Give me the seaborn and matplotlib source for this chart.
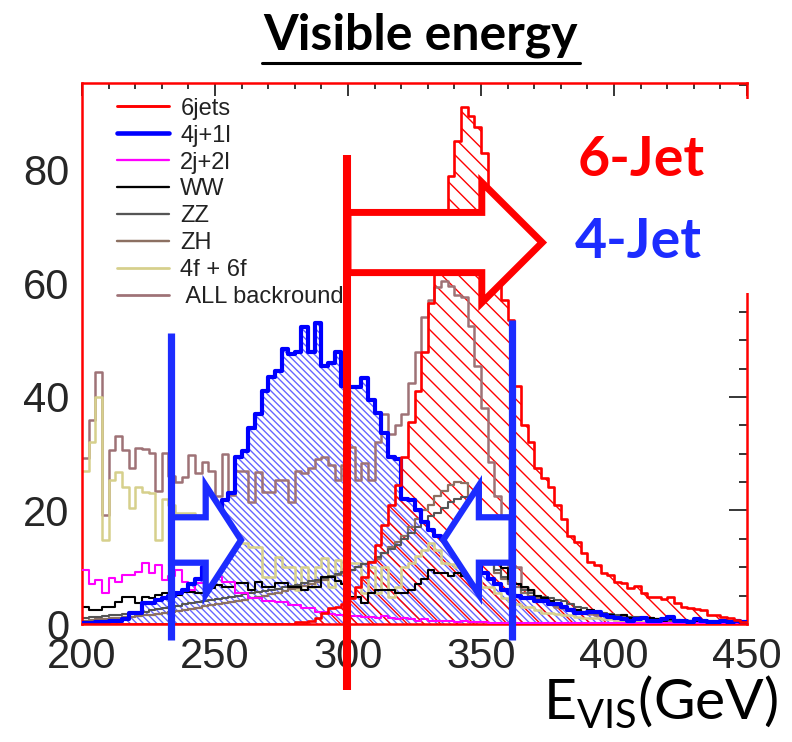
import numpy as np
import pandas as pd
import matplotlib
matplotlib.use("Agg")
import matplotlib.pyplot as plt
import seaborn as sns
from matplotlib.lines import Line2D
from matplotlib.patches import Polygon, Rectangle
from matplotlib.ticker import MultipleLocator

# ---------------- data (2.5 GeV bins from 200 to 450) ----------------
bin_edges = [200.0 + 2.5 * i for i in range(101)]
bin_centers = [200.0 + 2.5 * i + 1.25 for i in range(100)]

six_jets = [0, 0, 0, 0, 0, 0, 0, 0, 0, 0,
            0, 0, 0, 0, 0, 0, 0, 0, 0, 0,
            0, 0, 0, 0, 0, 0, 0, 0, 0, 0,
            0, 0, 0.3, 0.3, 0.5, 1, 2, 2.8, 3, 3.5,
            4.5, 6.5, 8.3, 11, 14, 17.5, 21, 24.5, 29.5, 35.5,
            41, 48, 56.5, 64, 72, 79, 85, 91, 89.5, 87.5,
            83, 74, 64, 57, 53.5, 42, 35, 32, 27.5, 25.7,
            24.1, 21, 18.5, 15.5, 14.5, 12.5, 11, 10.4, 9, 8.6,
            7.4, 7.2, 6.3, 6.7, 5.5, 4.8, 4.8, 4.4, 4.8, 3.7,
            3.0, 2.8, 2.6, 2.5, 1.6, 1.6, 1.2, 1.0, 0.7, 0.4]

four_j_one_l = [0.2, 0.2, 0.3, 0.3, 0.6, 0.6, 0.8, 2, 2, 3.7,
                3.7, 4.2, 4.5, 5, 5.5, 6, 7, 8, 10, 14,
                18, 21.8, 23, 29.5, 30.5, 34.5, 37, 41, 43.5, 44.5,
                48.5, 47.5, 48, 52.3, 48, 53, 45.5, 46, 48, 42,
                41.8, 41.8, 43.3, 39.5, 37.2, 33.6, 29.5, 29, 22, 21.8,
                20, 18, 16.5, 15.5, 15, 14, 13, 12.5, 11.5, 10.5,
                9, 8, 7, 6, 5.5, 5, 4.5, 4.5, 4, 4,
                3.5, 3.5, 3, 2.5, 2, 2, 2.2, 2.2, 1.5, 1.2,
                1, 0.8, 0.6, 0.8, 1, 0.5, 0.6, 0.8, 1.2, 0.6,
                0.5, 0.4, 0.8, 0.5, 0.3, 0.4, 0.6, 0.3, 0.5, 0.3]

two_j_two_l = [9.5, 7, 7.8, 5.5, 8.1, 7.4, 8.6, 8.6, 9.2, 10.7,
               9, 10.4, 7.8, 8.5, 9.5, 7.4, 6, 7.2, 7.2, 7.2,
               8.3, 7.4, 7.4, 5.5, 5.5, 4.6, 4.6, 4, 4, 3.8,
               3.8, 3.3, 3.3, 2.8, 2.8, 2.2, 2.2, 1.8, 1.6, 1.6,
               1.4, 1.4, 1.2, 1.2, 1.0, 1.4, 1.0, 0.8, 1.0, 0.8,
               0.6, 0.8, 0.6, 0.5, 0.6, 0.5, 0.4, 0.5, 0.4, 0.3,
               0.3, 0.2, 0.2, 0.2, 0.2, 0.2, 0.2, 0.2, 0.1, 0.1,
               0.1, 0.1, 0.1, 0.1, 0.1, 0.1, 0.1, 0.1, 0.1, 0.1,
               0.1, 0.1, 0.1, 0.1, 0.1, 0.1, 0.1, 0.1, 0.1, 0.1,
               0.1, 0.1, 0.1, 0.1, 0.1, 0.1, 0.1, 0.1, 0.1, 0.1]

ww = [3, 2.5, 2.5, 3, 3, 3.9, 4.8, 4.8, 3.7, 4.8,
      4.6, 5.1, 5.5, 5.1, 5.1, 5.6, 5.6, 5.5, 5.5, 6.3,
      6.9, 6.5, 6.5, 7.2, 7.2, 6, 7.4, 6.5, 6.5, 7.2,
      7.2, 6.5, 6.5, 6, 6.5, 6.5, 8.3, 8.3, 7.5, 7,
      4.8, 4.8, 3.7, 5.5, 6, 6, 6, 5.5, 5.5, 6,
      7, 8, 9.5, 9, 9, 8.5, 9, 8.5, 9.5, 10,
      11.8, 12.5, 11, 9.9, 8, 7, 6.5, 6, 5, 4.5,
      4, 3.5, 3, 2.5, 2.5, 2, 2.5, 2, 1.5, 1.5,
      1.2, 1.5, 1, 1, 0.8, 1, 0.8, 0.6, 0.8, 0.5,
      0.4, 0.5, 0.3, 0.4, 0.3, 0.2, 0.3, 0.2, 0.2, 0.1]

zz = [1.0, 1.2, 1.2, 1.4, 1.5, 1.6, 1.8, 2.0, 2.0, 2.2,
      2.4, 2.6, 2.8, 3.0, 3.2, 3.5, 3.7, 3.9, 4.1, 4.2,
      4.4, 4.6, 4.8, 5.0, 5.2, 5.4, 5.6, 5.8, 6.0, 6.2,
      6.5, 6.7, 6.9, 7.2, 7.5, 7.8, 8.1, 8.4, 8.8, 9.2,
      9.6, 10, 10.5, 11, 11.8, 12.5, 13.2, 14, 15, 16,
      17, 18, 19, 19.5, 20.5, 21.5, 22, 22.4, 17.8, 15,
      12.5, 11, 9.5, 8.3, 7.5, 7, 6, 5.5, 5, 4.8,
      4.5, 4.2, 4, 3.5, 3, 2.8, 2.5, 2.2, 2, 1.8,
      1.6, 1.5, 1.3, 1.2, 1.1, 1.0, 0.9, 0.8, 0.7, 0.7,
      0.6, 0.5, 0.5, 0.4, 0.4, 0.3, 0.3, 0.2, 0.2, 0.2]

zh = [0.6, 0.7, 0.8, 0.9, 1.0, 1.1, 1.2, 1.3, 1.4, 1.5,
      1.6, 1.8, 2.0, 2.1, 2.3, 2.5, 2.7, 2.9, 3.1, 3.3,
      3.5, 3.7, 3.9, 4.1, 4.3, 4.5, 4.7, 5.0, 5.2, 5.5,
      5.8, 6.1, 6.4, 6.7, 7.0, 7.4, 7.8, 8.2, 8.6, 9.0,
      9.5, 10, 10.5, 11, 11.5, 12.5, 13.5, 14.5, 15.5, 17,
      18.5, 20, 21, 22.5, 23.5, 24.5, 25, 24.8, 22, 19,
      12.5, 10.5, 9, 8, 7, 6.5, 5.5, 5, 4.5, 4,
      3.6, 3.2, 3.0, 2.7, 2.4, 2.2, 2.0, 1.8, 1.6, 1.4,
      1.3, 1.2, 1.1, 1.0, 0.9, 0.8, 0.8, 0.7, 0.6, 0.6,
      0.5, 0.5, 0.4, 0.4, 0.3, 0.3, 0.3, 0.2, 0.2, 0.2]

four_six_f = [27, 32, 40, 14.8, 25.4, 26.8, 24.1, 20.4, 24.1, 23.3,
              23, 14.8, 22, 21, 19.5, 19.5, 19.5, 18, 16, 14.8,
              14, 14, 13.6, 14.2, 14.2, 13.6, 13.6, 8.3, 8.3, 11.8,
              10, 10, 6, 10, 6.5, 10, 11.6, 6.5, 11.3, 9,
              10.7, 10.7, 5.5, 10, 5.5, 10, 4.8, 6.5, 10, 10.7,
              12, 13, 14.2, 13, 10.7, 10.5, 10, 9.5, 9.5, 7.8,
              6.5, 6.5, 5.5, 4.6, 4, 3.5, 3, 3, 2.5, 2,
              2, 1.8, 1.5, 1.5, 1.2, 1, 1, 1, 0.8, 0.8,
              0.6, 0.5, 0.5, 0.5, 0.4, 0.4, 0.4, 0.3, 0.3, 0.3,
              0.3, 0.2, 0.2, 0.2, 0.2, 0.1, 0.1, 0.1, 0.1, 0.1]

all_background = [29.2, 36, 44.4, 19.2, 30.6, 33.1, 30.6, 27.5, 31, 30.8,
                  30.1, 23.4, 30.1, 26, 25, 25.9, 29.8, 26.6, 28.5, 27,
                  22.5, 30, 22.7, 27, 27, 21.5, 26.8, 23.3, 23.3, 25.4,
                  25.4, 21.5, 27, 26.6, 27.5, 29, 29.5, 28, 25.4, 28,
                  31.2, 25.4, 28.3, 25.4, 32, 37, 33.5, 35, 37, 42.5,
                  48, 54, 57, 59.4, 60.5, 59.5, 58, 57.6, 52.5, 45.5,
                  38, 28.5, 22.5, 12, 10, 10, 6.5, 6, 4.5, 4,
                  3.5, 3, 2.8, 2.5, 2.2, 2, 1.8, 1.6, 1.5, 1.4,
                  1.2, 1.2, 1.1, 1, 1, 0.9, 0.9, 0.8, 0.8, 0.7,
                  0.7, 0.6, 0.6, 0.5, 0.5, 0.5, 0.4, 0.4, 0.3, 0.3]

series_names = ["6jets", "4j+1l", "2j+2l", "WW", "ZZ", "ZH", "4f + 6f", " ALL backround"]
series_values = [six_jets, four_j_one_l, two_j_two_l, ww, zz, zh, four_six_f, all_background]
series_colors = ["#FF0000", "#0000FF", "#FF00FF", "#000000", "#555555", "#8C7062", "#D6D08C", "#9E7276"]
series_widths = [1.9, 3.0, 1.5, 1.5, 1.5, 1.6, 1.8, 1.8]

# cut positions (GeV)
cut_6jet = 299.5
cut_4jet_low = 233.5
cut_4jet_high = 361.5

# ---------------- styling ----------------
sns.set_theme(style="white")
plt.rcParams['font.family'] = ['Liberation Sans', 'DejaVu Sans']
plt.rcParams['hatch.linewidth'] = 1.0

fig = plt.figure(figsize=(7.92, 7.42), dpi=100)
fig.patch.set_facecolor("white")
ax = fig.add_axes([82 / 792, 1 - 624 / 742, (747 - 82) / 792, (624 - 83) / 742])
ax.set_facecolor("white")


def frame(values):
    return pd.DataFrame({"E": bin_centers, "w": values})


# hatched fills for the two signal samples
sns.histplot(data=frame(four_j_one_l), x="E", weights="w", bins=bin_edges, element="bars", fill=True,
             facecolor="none", edgecolor=(0.0, 0.0, 1.0, 0.6), hatch="\\" * 5, linewidth=0,
             ax=ax, zorder=1)
sns.histplot(data=frame(six_jets), x="E", weights="w", bins=bin_edges, element="bars", fill=True,
             facecolor="none", edgecolor="#FF0000", hatch="\\" * 2, linewidth=0, ax=ax, zorder=1.2)

# outlines
draw_order = [7, 6, 5, 4, 3, 2, 1, 0]
for k in draw_order:
    sns.histplot(data=frame(series_values[k]), x="E", weights="w", bins=bin_edges, element="step",
                 fill=False, color=series_colors[k], linewidth=series_widths[k], ax=ax,
                 zorder=2 + 0.1 * (8 - k))

ax.set_xlim(200, 450)
ax.set_ylim(0, 95.3)
ax.set_xlabel("")
ax.set_ylabel("")

ax.xaxis.set_major_locator(MultipleLocator(50))
ax.xaxis.set_minor_locator(MultipleLocator(10))
ax.yaxis.set_major_locator(MultipleLocator(20))
ax.yaxis.set_minor_locator(MultipleLocator(5))
ax.tick_params(which="both", direction="in", top=True, right=True, color="black", width=1.1)
ax.tick_params(axis="x", which="major", length=9, labelsize=30, pad=9)
ax.tick_params(axis="x", which="minor", length=4.5)
ax.tick_params(axis="y", which="major", length=13, labelsize=30, pad=9)
ax.tick_params(axis="y", which="minor", length=6)
for s in ax.spines.values():
    s.set_color("#FF0000")
    s.set_linewidth(1.8)
    s.set_visible(True)

# legend
handles = [Line2D([0], [0], color=c, lw=w * 1.1) for c, w in zip(series_colors, series_widths)]
leg = ax.legend(handles, series_names, loc="upper left", bbox_to_anchor=(0.052, 0.973),
                frameon=False, fontsize=17, handlelength=2.2, handletextpad=0.5,
                labelspacing=0.21, borderpad=0, borderaxespad=0)
for t in leg.get_texts():
    t.set_color("#222222")

# cut lines and arrows (annotation shapes)
ax.plot([cut_6jet, cut_6jet], [-11.6, 82.6], color="#FF0000", lw=5.8, solid_capstyle="butt",
        clip_on=False, zorder=10)
ax.plot([cut_4jet_low, cut_4jet_low], [-2.8, 51.3], color="#1C2CFF", lw=5.2, solid_capstyle="butt",
        clip_on=False, zorder=10)
ax.plot([cut_4jet_high, cut_4jet_high], [-2.8, 53.5], color="#1C2CFF", lw=5.2, solid_capstyle="butt",
        clip_on=False, zorder=10)


def arrow_pts(x0, xh, xt, ym, bh, hh):
    return [(x0, ym + bh), (xh, ym + bh), (xh, ym + hh), (xt, ym), (xh, ym - hh),
            (xh, ym - bh), (x0, ym - bh)]


red_arrow = Polygon(arrow_pts(cut_6jet + 0.5, 350.3, 373.0, 67.2, 5.3, 10.6), closed=True,
                    facecolor="white", edgecolor="#FF0000", lw=5, joinstyle="miter",
                    clip_on=False, zorder=9)
ax.add_patch(red_arrow)
blue_arrow_l = Polygon(arrow_pts(cut_4jet_low, 246.5, 259.8, 14.8, 4.0, 9.6), closed=True,
                       facecolor="white", edgecolor="#1C2CFF", lw=4.5, joinstyle="miter",
                       clip_on=False, zorder=9)
ax.add_patch(blue_arrow_l)
blue_arrow_r = Polygon(arrow_pts(cut_4jet_high, 349.2, 335.8, 14.8, 4.0, 9.6), closed=True,
                       facecolor="white", edgecolor="#1C2CFF", lw=4.5, joinstyle="miter",
                       clip_on=False, zorder=9)
ax.add_patch(blue_arrow_r)

# white panel behind the 6-Jet / 4-Jet labels (hides part of the right frame)
fig.add_artist(Rectangle((553 / 792, 1 - 293 / 742), (792 - 553) / 792, (293 - 99) / 742,
                         transform=fig.transFigure, facecolor="white", edgecolor="none", zorder=5))

fig.text(578 / 792, 1 - 176 / 742, "6-Jet", color="#FF0000", fontsize=40, fontweight="bold",
         family=["Lato", "DejaVu Sans"], ha="left", va="baseline", zorder=6)
fig.text(575 / 792, 1 - 258 / 742, "4-Jet", color="#1C2CFF", fontsize=40, fontweight="bold",
         family=["Lato", "DejaVu Sans"], ha="left", va="baseline", zorder=6)

# title with underline
fig.text(421 / 792, 1 - 50 / 742, "Visible energy", color="black", fontsize=36, fontweight="bold",
         family=["Lato", "DejaVu Sans"], ha="center", va="baseline")
fig.add_artist(Line2D([262 / 792, 580 / 792], [1 - 63 / 742, 1 - 63 / 742], color="black", lw=2.2,
                      transform=fig.transFigure))

# axis title
fig.text(778 / 792, 1 - 720 / 742, r"E$_{\mathregular{VIS}}$(GeV)", color="black", fontsize=41,
         family=["Lato", "DejaVu Sans"], ha="right", va="baseline")

fig.savefig("out.png", dpi=100)
